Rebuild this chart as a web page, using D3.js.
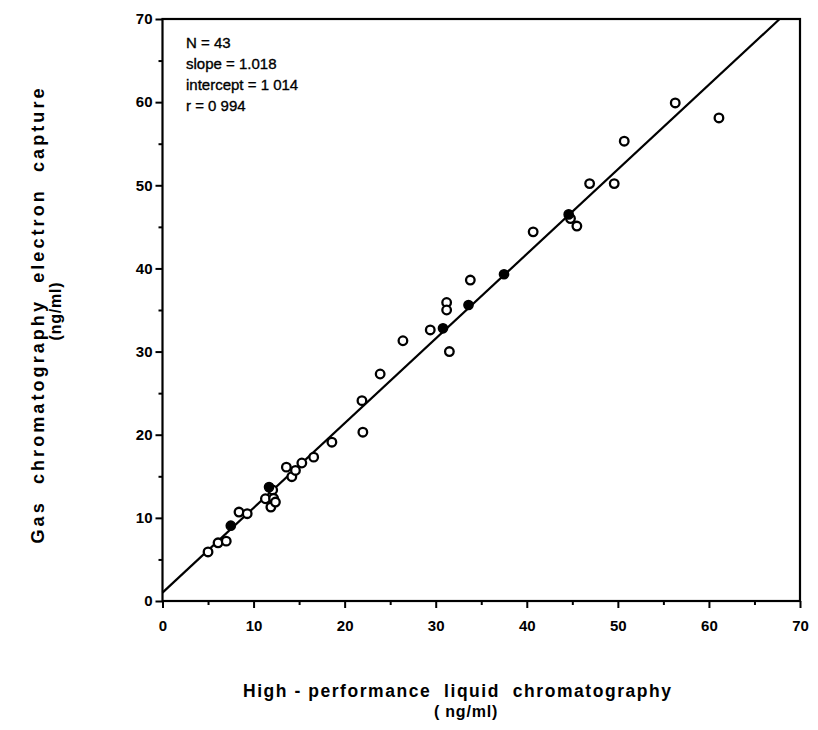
<!DOCTYPE html>
<html><head><meta charset="utf-8">
<script src="https://cdn.jsdelivr.net/npm/d3@7"></script>
<style>
body{margin:0;background:#fff}
text{font-family:"Liberation Sans",Arial,Helvetica,sans-serif;fill:#000}
</style>
</head><body>
<svg id="chart" width="818" height="730"></svg>
<script>
// HPLC (x) vs GC-EC (y), ng/ml — open circles
const hplc = [5.0, 6.1, 7.0, 8.4, 9.3, 11.3, 12.1, 12.2, 11.9, 12.4, 13.6, 14.2, 14.6, 15.3, 16.6, 18.6, 21.9, 22.0, 23.9, 26.4, 29.4, 31.2, 31.2, 31.5, 33.8, 40.7, 44.8, 45.5, 46.9, 49.6, 50.7, 56.3, 61.1];
const gcec = [5.9, 7.0, 7.2, 10.7, 10.5, 12.3, 13.35, 12.35, 11.3, 11.9, 16.1, 14.95, 15.7, 16.6, 17.3, 19.1, 24.1, 20.3, 27.3, 31.3, 32.6, 35.9, 35.0, 30.0, 38.6, 44.4, 46.0, 45.1, 50.2, 50.2, 55.3, 59.9, 58.1];
// coincident (overlapping) points, rendered solid
const hplcCoincident = [7.5, 11.7, 30.8, 33.6, 37.5, 44.6];
const gcecCoincident = [9.06, 13.7, 32.8, 35.6, 39.3, 46.5];

const majorTicks = [0, 10, 20, 30, 40, 50, 60, 70];
const minorTicks = [5, 15, 25, 35, 45, 55, 65];
const statLines = ["N = 43", "slope = 1.018", "intercept = 1 014", "r = 0 994"];
const slope = 1.018, intercept = 1.014;
const xTitle = "High - performance  liquid  chromatography";
const xUnit = "( ng/ml)";
const yTitle = "Gas  chromatography  electron  capture";
const yUnit = "(ng/ml)";

const svg = d3.select("#chart");
const x = d3.scaleLinear().domain([0, 70]).range([162.5, 800]);
const y = d3.scaleLinear().domain([0, 70]).range([601, 19]);

const styleText = g => g.selectAll("text").attr("font-size", 15).attr("font-weight", "bold")
  .attr("font-family", "Liberation Sans, Arial, sans-serif").attr("fill", "#000");

// minor ticks
svg.append("g").attr("transform", `translate(0,${y(0)})`)
  .call(d3.axisBottom(x).tickValues(minorTicks).tickSize(4).tickFormat(""))
  .call(g => g.select(".domain").remove())
  .call(g => g.selectAll("line").attr("stroke", "#000").attr("stroke-width", 2));
svg.append("g").attr("transform", `translate(${x(0)},0)`)
  .call(d3.axisLeft(y).tickValues(minorTicks).tickSize(4).tickFormat(""))
  .call(g => g.select(".domain").remove())
  .call(g => g.selectAll("line").attr("stroke", "#000").attr("stroke-width", 2));

// major ticks + labels
svg.append("g").attr("transform", `translate(0,${y(0)})`)
  .call(d3.axisBottom(x).tickValues(majorTicks).tickSize(7).tickPadding(12).tickFormat(d3.format("d")))
  .call(g => g.select(".domain").remove())
  .call(g => g.selectAll("line").attr("stroke", "#000").attr("stroke-width", 2))
  .call(styleText);
svg.append("g").attr("transform", `translate(${x(0)},0)`)
  .call(d3.axisLeft(y).tickValues(majorTicks).tickSize(7).tickPadding(3).tickFormat(d3.format("d")))
  .call(g => g.select(".domain").remove())
  .call(g => g.selectAll("line").attr("stroke", "#000").attr("stroke-width", 2))
  .call(styleText);

// frame
svg.append("rect")
  .attr("x", x(0)).attr("y", y(70))
  .attr("width", x(70) - x(0)).attr("height", y(0) - y(70))
  .attr("fill", "none").attr("stroke", "#000").attr("stroke-width", 2.2);

// regression line
const xEnd = (70 - intercept) / slope;
svg.append("line")
  .attr("x1", x(0)).attr("y1", y(intercept))
  .attr("x2", x(xEnd)).attr("y2", y(70))
  .attr("stroke", "#000").attr("stroke-width", 2.2);

// points
const pts = hplc.map((v, i) => [v, gcec[i]]);
svg.append("g").selectAll("circle").data(pts).join("circle")
  .attr("cx", d => x(d[0])).attr("cy", d => y(d[1])).attr("r", 4.3)
  .attr("fill", "#fff").attr("stroke", "#000").attr("stroke-width", 2.3);
const cpts = hplcCoincident.map((v, i) => [v, gcecCoincident[i]]);
svg.append("g").selectAll("circle").data(cpts).join("circle")
  .attr("cx", d => x(d[0])).attr("cy", d => y(d[1])).attr("r", 4.6)
  .attr("fill", "#000").attr("stroke", "#000").attr("stroke-width", 1.5);

// stats text
svg.append("g").selectAll("text").data(statLines).join("text")
  .attr("x", 186).attr("y", (d, i) => 48 + i * 21)
  .attr("font-size", 15).attr("stroke", "#000").attr("stroke-width", 0.35)
  .text(d => d);

// axis titles
svg.append("text").attr("x", 457).attr("y", 697)
  .attr("text-anchor", "middle").attr("font-size", 17.5).attr("font-weight", "bold")
  .style("white-space", "pre").attr("textLength", 428).attr("lengthAdjust", "spacing")
  .text(xTitle);
svg.append("text").attr("x", 466).attr("y", 717)
  .attr("text-anchor", "middle").attr("font-size", 16).attr("font-weight", "bold")
  .style("white-space", "pre").attr("letter-spacing", 0.8)
  .text(xUnit);
svg.append("text").attr("transform", "translate(44,316) rotate(-90)")
  .attr("text-anchor", "middle").attr("font-size", 18).attr("font-weight", "bold")
  .style("white-space", "pre").attr("textLength", 455).attr("lengthAdjust", "spacing")
  .text(yTitle);
svg.append("text").attr("transform", "translate(61,311) rotate(-90)")
  .attr("text-anchor", "middle").attr("font-size", 16).attr("font-weight", "bold")
  .attr("letter-spacing", 0.8)
  .text(yUnit);
</script>
</body></html>
